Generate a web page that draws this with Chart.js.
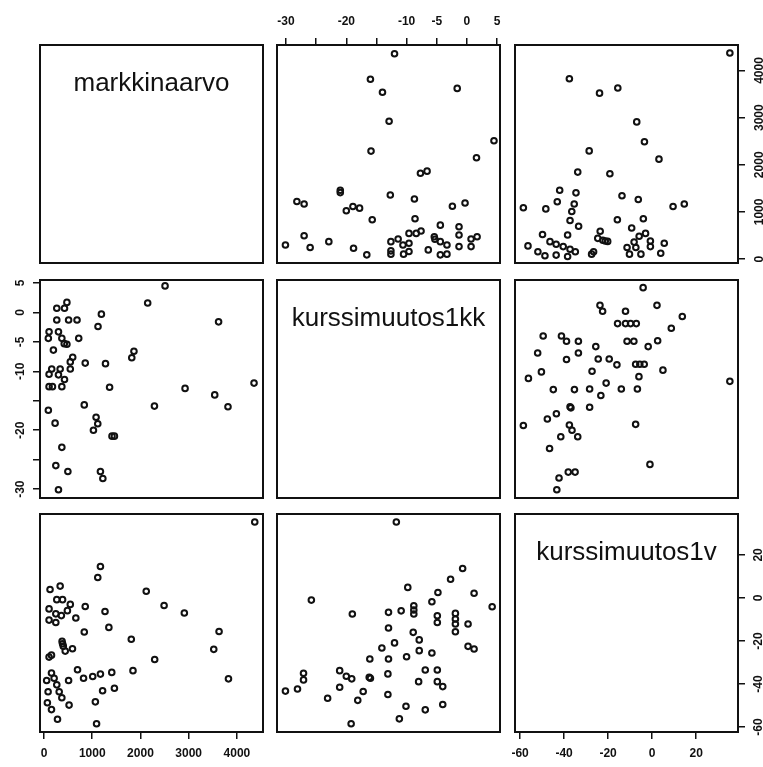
<!DOCTYPE html>
<html>
<head>
<meta charset="utf-8">
<script src="https://cdn.jsdelivr.net/npm/chart.js@4.4.1/dist/chart.umd.min.js"></script>
<style>
  html, body { margin: 0; padding: 0; background: #fff; }
  #wrap { position: relative; width: 763px; height: 767px; overflow: hidden; }
  #wrap canvas { position: absolute; left: 0; top: 0; }
</style>
</head>
<body>
<div id="wrap"></div>
<script>
const W = 763, H = 767;

const varNames = ['markkinaarvo', 'kurssimuutos1kk', 'kurssimuutos1v'];

// markkinaarvo / kurssimuutos1kk pairs
const mvA = [2510, 2150, 475, 425, 265, 265, 510, 685, 1190, 1120, 3620, 105, 90, 300, 370,
  420, 475, 720, 195, 595, 545, 545, 855, 1275, 1865, 1820, 160, 335, 105, 300,
  425, 370, 105, 175, 1360, 2925, 3540, 4355, 3815, 2290, 835, 90, 1080, 1115, 1025,
  230, 1410, 1460, 370, 245, 495, 1170, 1220, 300];
const kkA = [4.5, 1.6, 1.7, 0.7, 0.7, -1.3, -1.3, -1.3, -0.3, -2.4, -1.6, -3.3, -4.4, -3.3, -4.4,
  -5.3, -5.4, -4.4, -6.4, -7.6, -8.4, -9.6, -8.6, -8.7, -6.6, -7.7, -9.6, -9.6, -10.5, -10.6,
  -11.4, -12.6, -12.6, -12.6, -12.7, -12.9, -14.0, -12.0, -16.0, -15.9, -15.7, -16.6, -17.8, -18.9, -20.0,
  -18.8, -21.0, -21.0, -22.9, -26.0, -27.0, -27.0, -28.2, -30.1];

// markkinaarvo / kurssimuutos1v pairs
const mvB = [4370, 1170, 1115, 125, 335, 2120, 265, 385, 105, 545, 485, 245, 360, 105, 245,
  660, 855, 1265, 2490, 2910, 1345, 835, 3630, 1810, 3520, 385, 375, 400, 440, 590,
  105, 155, 2295, 695, 155, 55, 210, 510, 820, 1010, 1170, 1405, 1845, 3825, 265,
  85, 315, 370, 1215, 1460, 70, 155, 520, 1065, 280, 1090];
const vB = [35.3, 14.6, 9.5, 3.9, 5.5, 3.1, -0.8, -0.8, -5.1, -3.0, -5.9, -7.4, -8.2, -10.3, -11.4,
  -9.3, -4.0, -6.3, -3.5, -7.0, -13.7, -15.8, -15.6, -19.2, -23.9, -21.3, -20.2, -22.4, -24.7, -23.6,
  -27.5, -26.6, -28.6, -33.4, -34.9, -38.4, -37.3, -38.4, -37.3, -36.5, -35.4, -34.6, -33.8, -37.6, -40.4,
  -43.6, -43.6, -46.4, -43.1, -42.0, -48.7, -51.9, -49.8, -48.3, -56.4, -58.5];

// kurssimuutos1kk / kurssimuutos1v pairs
const kkC = [-11.7, -0.7, -2.7, -9.8, -4.8, 1.2, -5.8, 4.2, -8.8, -8.8, -8.8, -10.9, -13.0, -19.0, -25.8,
  -4.9, -4.9, -1.9, -1.9, -1.9, -1.9, 0.2, -13.0, -8.9, -7.9, 0.2, 1.2, -12.0, -14.1, -7.9,
  -5.8, -10.0, -13.0, -16.1, -6.9, -4.9, -16.2, -16.0, -21.1, -20.0, -19.1, -21.1, -13.1, -8.0, -4.9,
  -4.0, -17.2, -18.1, -13.1, -10.1, -6.9, -4.0, -11.2, -19.2, -30.1, -28.1, -27.1, -27.1, -23.1];
const vC = [35.3, 13.7, 8.7, 4.9, 2.5, 2.2, -1.8, -4.1, -3.6, -5.6, -7.5, -6.0, -6.7, -7.5, -1.0,
  -8.3, -11.4, -7.2, -9.8, -12.1, -15.7, -12.1, -14.0, -16.0, -19.5, -22.5, -23.7, -20.9, -23.3, -24.5,
  -25.6, -27.3, -28.4, -28.4, -33.5, -33.5, -36.9, -37.3, -33.8, -36.4, -37.6, -41.5, -35.3, -38.9, -38.9,
  -41.2, -43.5, -47.6, -44.9, -50.3, -52.0, -49.5, -56.2, -58.5, -43.3, -42.3, -35.0, -38.1, -46.6];

// axis limits and ticks
const mvLim = [-83, 4541];
const kkLim = [-31.5, 5.5];
const vLim = [-62.3, 39];
const mvTicks = [0, 1000, 2000, 3000, 4000];
const mvLabels = ['0', '1000', '2000', '3000', '4000'];
const kkTicks = [-30, -25, -20, -15, -10, -5, 0, 5];
const kkLabels = ['-30', '', '-20', '', '-10', '-5', '0', '5'];
const vTicks = [-60, -40, -20, 0, 20];
const vLabels = ['-60', '-40', '-20', '0', '20'];

// panel boxes (pixels)
const colX = [[40, 263], [277, 500], [515, 738]];
const rowY = [[45, 263], [280, 498], [514, 732]];

const INK = '#111';
const tickFont = { family: '"Liberation Sans", Arial, sans-serif', size: 12, weight: 'bold' };
const AXIS_H = 35, AXIS_LEFT = 40, AXIS_RIGHT = 25;

function axisCfg(lim, ticks, labels, pos, pad) {
  const cfg = { type: 'linear', min: lim[0], max: lim[1], display: !!pos, position: pos || 'bottom' };
  if (!pos) return cfg;
  const vertical = pos === 'left' || pos === 'right';
  cfg.afterBuildTicks = s => { s.ticks = ticks.map(v => ({ value: v })); };
  cfg.afterFit = s => {
    if (vertical) s.width = pos === 'left' ? AXIS_LEFT : AXIS_RIGHT;
    else s.height = AXIS_H;
  };
  cfg.ticks = {
    autoSkip: false, includeBounds: false, color: INK, font: tickFont, padding: pad,
    callback: (v, i) => labels[i]
  };
  if (vertical) {
    cfg.ticks.minRotation = 90;
    cfg.ticks.maxRotation = 90;
    cfg.ticks.crossAlign = 'center';
  }
  cfg.grid = { drawOnChartArea: false, drawTicks: true, tickLength: 7, color: INK, lineWidth: 1.5 };
  cfg.border = { display: false };
  return cfg;
}

function boxPlugin(label) {
  return {
    id: 'panelBox',
    afterDraw(chart) {
      const a = chart.chartArea, ctx = chart.ctx;
      ctx.save();
      ctx.strokeStyle = INK;
      ctx.lineWidth = 2;
      ctx.strokeRect(a.left, a.top, a.right - a.left, a.bottom - a.top);
      if (label) {
        ctx.fillStyle = INK;
        ctx.font = '26px "Liberation Sans", Arial, sans-serif';
        ctx.textAlign = 'center';
        ctx.textBaseline = 'alphabetic';
        ctx.fillText(label, (a.left + a.right) / 2, a.top + 46);
      }
      ctx.restore();
    }
  };
}

function makePanel(row, col, xs, ys, xAxis, yAxis, label) {
  const [L, R] = colX[col];
  const [T, B] = rowY[row];
  const canvas = document.createElement('canvas');
  canvas.width = W;
  canvas.height = H;
  document.getElementById('wrap').appendChild(canvas);

  const padding = {
    left: L - (yAxis.position === 'left' ? AXIS_LEFT : 0),
    right: W - R - (yAxis.position === 'right' ? AXIS_RIGHT : 0),
    top: T - (xAxis.position === 'top' ? AXIS_H : 0),
    bottom: H - B - (xAxis.position === 'bottom' ? AXIS_H : 0)
  };

  const points = xs ? xs.map((x, i) => ({ x, y: ys[i] })) : [];

  new Chart(canvas.getContext('2d'), {
    type: 'scatter',
    data: {
      datasets: [{
        data: points,
        pointRadius: 2.8,
        pointBorderWidth: 2,
        borderColor: INK,
        backgroundColor: 'rgba(0,0,0,0)',
        pointHoverRadius: 2.8
      }]
    },
    options: {
      responsive: false,
      animation: false,
      events: [],
      layout: { padding },
      plugins: { legend: { display: false }, tooltip: { enabled: false } },
      scales: {
        x: axisCfg(xAxis.lim, xAxis.ticks, xAxis.labels, xAxis.position, xAxis.pad),
        y: axisCfg(yAxis.lim, yAxis.ticks, yAxis.labels, yAxis.position, yAxis.pad)
      }
    },
    plugins: [boxPlugin(label)]
  });
}

const mvAx = { lim: mvLim, ticks: mvTicks, labels: mvLabels };
const kkAx = { lim: kkLim, ticks: kkTicks, labels: kkLabels };
const vAx = { lim: vLim, ticks: vTicks, labels: vLabels };

// row 1
makePanel(0, 0, null, null, mvAx, mvAx, varNames[0]);
makePanel(0, 1, kkA, mvA, { ...kkAx, position: 'top', pad: 9 }, mvAx);
makePanel(0, 2, vB, mvB, vAx, { ...mvAx, position: 'right', pad: 1 });
// row 2
makePanel(1, 0, mvA, kkA, mvAx, { ...kkAx, position: 'left', pad: 4 });
makePanel(1, 1, null, null, kkAx, kkAx, varNames[1]);
makePanel(1, 2, vC, kkC, vAx, kkAx);
// row 3
makePanel(2, 0, mvB, vB, { ...mvAx, position: 'bottom', pad: 7 }, vAx);
makePanel(2, 1, kkC, vC, kkAx, vAx);
makePanel(2, 2, null, null, { ...vAx, position: 'bottom', pad: 7 }, { ...vAx, position: 'right', pad: 5 }, varNames[2]);
</script>
</body>
</html>
